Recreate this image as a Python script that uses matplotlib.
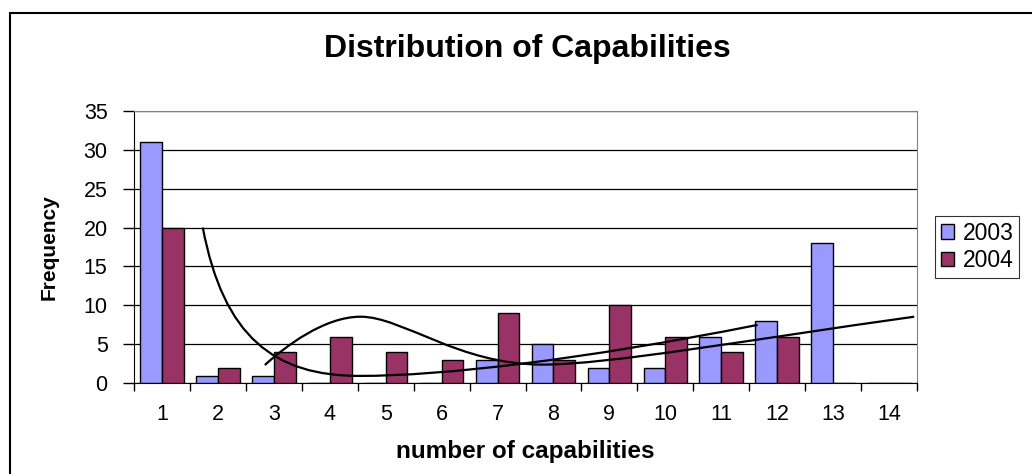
import numpy as np
import matplotlib
matplotlib.use("Agg")
import matplotlib.pyplot as plt
from matplotlib.path import Path
from matplotlib.patches import PathPatch, Rectangle

# data
categories = list(range(1, 15))
freq_2003 = [31, 1, 1, 0, 0, 0, 3, 5, 2, 2, 6, 8, 18, 0]
freq_2004 = [20, 2, 4, 6, 4, 3, 9, 3, 10, 6, 4, 6, 0, 0]
series_names = ["2003", "2004"]

# hand drawn trend curves (bezier control points, x in category units)
curve_a_x = [1.73, 2.1, 3.0, 4.55, 6.0, 8.5, 11.65]
curve_a_y = [20, 6, 0.9, 0.95, 0.95, 3.0, 7.5]
curve_b_x = [2.84, 3.2, 3.9, 4.55, 5.3, 6.3, 7.8, 9.0, 11.5, 14.45]
curve_b_y = [2.35, 4.7, 8.55, 8.55, 8.55, 2.4, 2.4, 2.4, 5.6, 8.55]

plt.rcParams["font.family"] = ["Liberation Sans", "DejaVu Sans"]

fig = plt.figure(figsize=(10.32, 4.74), dpi=100)
ax = fig.add_axes([134 / 1032, 1 - 383.3 / 474, 783 / 1032, 272.6 / 474])

# 1. bars
x = np.array(categories)
w = 0.39
ax.bar(x - w / 2, freq_2003, width=w, color="#9999FF", edgecolor="black",
       linewidth=1, label=series_names[0], zorder=3)
ax.bar(x + w / 2, freq_2004, width=w, color="#993366", edgecolor="black",
       linewidth=1, label=series_names[1], zorder=3)

# 2. trend curves
for cx, cy in [(curve_a_x, curve_a_y), (curve_b_x, curve_b_y)]:
    verts = list(zip(cx, cy))
    codes = [Path.MOVETO] + [Path.CURVE4] * (len(verts) - 1)
    ax.add_patch(PathPatch(Path(verts, codes), fill=False, edgecolor="black",
                           linewidth=1.6, zorder=4))

# 3. axes styling
ax.set_xlim(0.5, 14.5)
ax.set_ylim(0, 35)
ax.set_yticks(range(0, 36, 5))
ax.set_xticks(categories)
ax.set_xticks(np.arange(0.5, 15, 1), minor=True)
ax.tick_params(axis="x", which="major", length=0, labelsize=15.5, pad=15)
ax.tick_params(axis="x", which="minor", length=6, width=1, direction="out")
ax.tick_params(axis="y", length=8, width=1, direction="out", labelsize=15.5, pad=11)
ax.yaxis.grid(True, color="black", linewidth=0.9, zorder=0)
ax.set_axisbelow(True)
for s in ["top", "right"]:
    ax.spines[s].set_color("#808080")
ax.spines["left"].set_color("black")
ax.spines["bottom"].set_color("black")

ax.set_xlabel("number of capabilities", fontsize=17.5, fontweight="bold", labelpad=11)
ax.set_ylabel("Frequency", fontsize=15, fontweight="bold", labelpad=18)
fig.text(527 / 1032, 1 - 49 / 474, "Distribution of Capabilities",
         fontsize=23, fontweight="bold", ha="center", va="center")

leg = ax.legend(loc="center left", bbox_to_anchor=(935 / 1032, 1 - 247 / 474),
                bbox_transform=fig.transFigure, fontsize=16.5, frameon=True,
                fancybox=False, edgecolor="black", handlelength=0.6,
                handleheight=0.6, handletextpad=0.35, borderpad=0.25,
                labelspacing=0.2, borderaxespad=0)
leg.get_frame().set_linewidth(0.8)

# chart area border
fig.patches.append(Rectangle((10 / 1032, -0.1), 1.1, 1 - 13 / 474 + 0.1,
                             transform=fig.transFigure, fill=False,
                             edgecolor="black", linewidth=1.5))

fig.savefig("out.png", dpi=100)
